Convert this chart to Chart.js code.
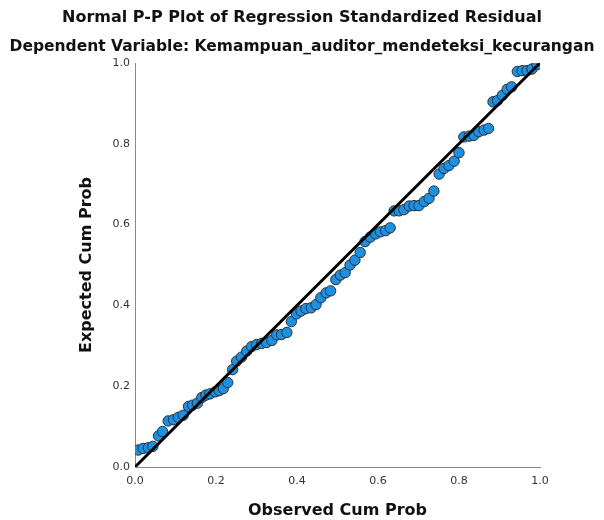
<!DOCTYPE html>
<html>
<head>
<meta charset="utf-8">
<script src="https://cdn.jsdelivr.net/npm/chart.js@4"></script>
<style>
    html, body { margin: 0; padding: 0; background: #fff; }
    #wrap { width: 604px; height: 520px; }
</style>
</head>
<body>
<div id="wrap"><canvas id="ppChart" width="604" height="520"></canvas></div>
<script>
const observedCumProb = [
    0.008, 0.020, 0.033, 0.044, 0.058, 0.068, 0.082, 0.095, 0.107, 0.119,
    0.132, 0.142, 0.154, 0.165, 0.175, 0.185, 0.198, 0.208, 0.218, 0.229,
    0.241, 0.251, 0.263, 0.276, 0.288, 0.300, 0.313, 0.325, 0.338, 0.350,
    0.362, 0.375, 0.386, 0.399, 0.410, 0.422, 0.435, 0.447, 0.459, 0.472,
    0.483, 0.496, 0.507, 0.519, 0.531, 0.543, 0.556, 0.568, 0.581, 0.594,
    0.606, 0.619, 0.630, 0.640, 0.652, 0.664, 0.677, 0.689, 0.701, 0.714,
    0.726, 0.738, 0.751, 0.763, 0.775, 0.788, 0.800, 0.812, 0.825, 0.837,
    0.849, 0.862, 0.873, 0.884, 0.895, 0.907, 0.919, 0.930, 0.944, 0.956,
    0.968, 0.980, 0.993
];
const expectedCumProb = [
    0.042, 0.046, 0.048, 0.051, 0.077, 0.088, 0.114, 0.117, 0.123, 0.128,
    0.150, 0.153, 0.158, 0.172, 0.178, 0.181, 0.186, 0.189, 0.194, 0.209,
    0.241, 0.262, 0.272, 0.287, 0.298, 0.303, 0.306, 0.308, 0.313, 0.327,
    0.328, 0.333, 0.360, 0.379, 0.386, 0.392, 0.394, 0.402, 0.419, 0.431,
    0.436, 0.464, 0.475, 0.481, 0.500, 0.512, 0.531, 0.558, 0.569, 0.577,
    0.582, 0.585, 0.592, 0.634, 0.634, 0.637, 0.646, 0.647, 0.647, 0.657,
    0.665, 0.683, 0.725, 0.739, 0.746, 0.757, 0.778, 0.817, 0.819, 0.821,
    0.830, 0.834, 0.838, 0.904, 0.907, 0.920, 0.935, 0.941, 0.979, 0.981,
    0.981, 0.985, 0.996
];
// 参考线 (对角线)
const refLineX = [0, 1];
const refLineY = [0, 1];
const tickValues = [0, 0.2, 0.4, 0.6, 0.8, 1.0];

const points = observedCumProb.map((x, i) => ({ x: x, y: expectedCumProb[i] }));
const refLine = refLineX.map((x, i) => ({ x: x, y: refLineY[i] }));

const fontFamily = '"DejaVu Sans", sans-serif';

new Chart(document.getElementById('ppChart'), {
    type: 'scatter',
    data: {
        datasets: [
            {
                label: 'ref',
                data: refLine,
                showLine: true,
                borderColor: '#000',
                borderWidth: 3,
                pointRadius: 0,
                order: 0
            },
            {
                label: 'residual',
                data: points,
                backgroundColor: '#1e90e0',
                borderColor: '#2a2f36',
                borderWidth: 1,
                pointRadius: 5.2,
                order: 1
            }
        ]
    },
    options: {
        responsive: false,
        animation: false,
        layout: { padding: 0 },
        plugins: {
            legend: { display: false },
            tooltip: { enabled: false },
            title: {
                display: true,
                text: 'Normal P-P Plot of Regression Standardized Residual',
                color: '#111',
                font: { family: fontFamily, size: 16, weight: 'bold' },
                padding: { top: 8, bottom: 10 }
            },
            subtitle: {
                display: true,
                text: 'Dependent Variable: Kemampuan_auditor_mendeteksi_kecurangan',
                color: '#111',
                font: { family: fontFamily, size: 15.5, weight: 'bold' },
                padding: { top: 0, bottom: 7.2 }
            }
        },
        scales: {
            x: {
                type: 'linear',
                min: 0,
                max: 1,
                afterBuildTicks: axis => { axis.ticks = tickValues.map(v => ({ value: v })); },
                afterFit: axis => { axis.height = 53; },
                grid: { display: false, drawTicks: false },
                border: { display: true, color: '#8a8a8a', width: 1 },
                ticks: {
                    padding: 8,
                    color: '#333',
                    font: { family: fontFamily, size: 11 },
                    callback: v => v.toFixed(1)
                },
                title: {
                    display: true,
                    text: 'Observed Cum Prob',
                    color: '#111',
                    font: { family: fontFamily, size: 16, weight: 'bold' },
                    padding: { top: 0, bottom: 0 }
                }
            },
            y: {
                type: 'linear',
                min: 0,
                max: 1,
                afterBuildTicks: axis => { axis.ticks = tickValues.map(v => ({ value: v })); },
                afterFit: axis => { axis.width = 135; },
                grid: { display: false, drawTicks: false },
                border: { display: true, color: '#8a8a8a', width: 1 },
                ticks: {
                    padding: 5,
                    color: '#333',
                    font: { family: fontFamily, size: 11 },
                    callback: v => v.toFixed(1)
                },
                title: {
                    display: true,
                    text: 'Expected Cum Prob',
                    color: '#111',
                    font: { family: fontFamily, size: 16, weight: 'bold' },
                    padding: { top: 77, bottom: 0 }
                }
            },
            // 右侧空白轴, 只用来留出右边距, 让标题居中于整张图
            yRight: {
                type: 'linear',
                position: 'right',
                min: 0,
                max: 1,
                afterFit: axis => { axis.width = 64; },
                grid: { display: false, drawTicks: false },
                border: { display: false },
                ticks: { display: false }
            }
        }
    }
});
</script>
</body>
</html>
